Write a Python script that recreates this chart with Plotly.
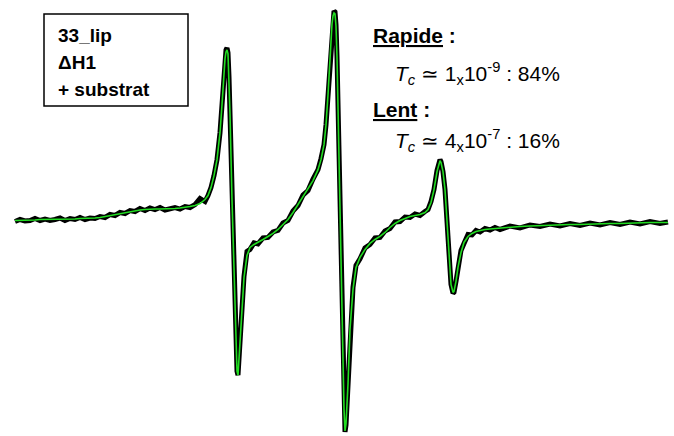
import plotly.graph_objects as go

# field axis (arbitrary units) and EPR derivative signal
field = [15, 20, 25, 30, 35, 40, 45, 50, 55, 60, 65, 70, 75, 80, 85, 90, 95, 100,
         105, 110, 115, 120, 125, 130, 135, 140, 145, 150, 155, 160, 165, 170, 175,
         180, 185, 190, 195, 200, 205, 208, 211, 214, 217, 220, 222,
         224, 225, 226, 227, 228, 229, 230, 232, 234, 236, 237, 238, 240, 242, 244,
         247, 250, 254, 258, 263, 268, 273, 278, 283, 288, 293, 298, 303, 308, 313,
         318, 321, 324, 326, 328, 330, 332, 333, 334, 335, 336, 337, 338,
         340, 342, 344, 345, 346, 348, 350, 353, 356,
         360, 365, 370, 375, 380, 385, 390, 395, 400, 405, 410, 415, 420, 425, 428,
         431, 434, 437, 439, 440, 441, 443, 445, 447, 449, 451, 453, 454, 456, 458,
         461, 464, 468, 472, 476, 480, 485, 490, 495, 500, 510, 520, 530, 540, 550,
         560, 570, 580, 590, 600, 610, 620, 630, 640, 650, 660, 668]

experimental = [0, 2, 0.5, 1, 3, 1, 2.5, 1, 2, 3.5, 1, 3, 2, 4, 2, 3.5, 3, 5,
                4, 7, 6, 9, 8, 11, 10, 13, 11, 13.5, 12, 14, 11.5, 13, 14,
                12.5, 15, 14, 17, 23, 20, 26, 34, 46, 62, 89, 117,
                151, 165, 172, 174, 169, 145, 108, 22, -58, -128, -150, -154, -123, -83, -55,
                -30, -28, -21.5, -22.5, -16.5, -16, -10.5, -9, -1.5, 1, 10.5, 16, 26.5, 31, 42.5,
                52, 63, 77, 97, 127, 167, 199, 208, 211, 210, 197, 165, 115,
                2, -108, -188, -211, -204, -163, -108, -66, -44,
                -37.5, -26.5, -23, -16.5, -16, -9.5, -7, -0.5, 0, 4.5, 4, 7.5, 6, 10, 12,
                20, 32, 51, 60, 62, 60, 50, 32, 0, -36, -63, -72, -71, -60, -45,
                -29, -22, -13, -13.5, -9, -10.5, -7, -8.5, -6, -8, -4.5, -6.5, -3.5, -5, -2.5,
                -4.5, -2, -4, -1.5, -3.5, -1, -3, -0.5, -2.5, 0, -2, -0.5]

simulated = [1, 1, 1, 1.5, 1.5, 2, 2, 2, 2, 2, 2, 2.5, 2.5, 3, 3, 3, 3.5, 4,
             5, 6, 7, 8, 9, 10, 11, 11.5, 12, 12.5, 12.5, 12.5, 12.5, 12.5, 13,
             13.5, 14, 15, 16, 18, 22, 26, 34, 46, 62, 89, 117,
             150, 163, 170, 172, 168, 145, 108, 22, -58, -128, -150, -154, -123, -83, -56,
             -34, -26, -23, -21, -18, -15, -12, -8, -3, 2, 9, 17, 25, 32, 41,
             52, 62, 77, 97, 127, 167, 198, 206, 209, 208, 196, 165, 115,
             2, -108, -188, -210, -203, -163, -108, -68, -46,
             -36, -28, -22, -18, -15, -11, -6, -2, 1, 3, 5, 6, 7, 9, 12,
             19, 32, 50, 59, 61, 59, 50, 32, 0, -36, -63, -71, -70, -60, -46,
             -31, -21, -15, -12, -10, -9, -8, -7.5, -7, -6.5, -5.5, -5, -4.5, -4, -3.5,
             -3.5, -3, -3, -2.5, -2.5, -2, -2, -1.5, -1.5, -1, -1, -1]

fig = go.Figure()
fig.add_trace(go.Scatter(x=field, y=experimental, mode="lines",
                         line=dict(color="black", width=5), name="exp"))
fig.add_trace(go.Scatter(x=field, y=simulated, mode="lines",
                         line=dict(color="#22dd22", width=1.6), name="sim"))

W, H = 674, 436
def px(x):
    return x / W
def py(y):
    return 1 - y / H

font_b = dict(family="Liberation Sans, Arial", size=19, color="black")
font_t = dict(family="Liberation Sans, Arial", size=21, color="black")

annotations = [
    dict(text="<b>33_lip</b>", x=px(56), y=py(35)),
    dict(text="<b>ΔH1</b>", x=px(56), y=py(62)),
    dict(text="<b>+ substrat</b>", x=px(56), y=py(89)),
]
for a in annotations:
    a.update(xref="paper", yref="paper", xanchor="left", yanchor="middle",
             showarrow=False, font=font_b)

right_text = [
    ("<b><u>Rapide</u> :</b>", 371, 35),
    ("<i>T<sub>c</sub></i> ≃ 1<sub>x</sub>10<sup>-9</sup> : 84%", 393, 73),
    ("<b><u>Lent</u> :</b>", 371, 110),
    ("<i>T<sub>c</sub></i> ≃ 4<sub>x</sub>10<sup>-7</sup> : 16%", 393, 140),
]
for txt, x, y in right_text:
    annotations.append(dict(text=txt, x=px(x), y=py(y), xref="paper", yref="paper",
                            xanchor="left", yanchor="middle", showarrow=False, font=font_t))

fig.update_layout(
    width=W, height=H,
    margin=dict(l=0, r=0, t=0, b=0),
    paper_bgcolor="white", plot_bgcolor="white",
    showlegend=False,
    xaxis=dict(range=[0, W], visible=False),
    yaxis=dict(range=[-215, 222], visible=False),
    annotations=annotations,
    shapes=[dict(type="rect", xref="paper", yref="paper",
                 x0=px(44), x1=px(188), y0=py(106), y1=py(14),
                 line=dict(color="black", width=1.5))],
)

fig.write_html("out.html", config={"displayModeBar": False},
               post_script="document.body.style.margin='0';")
